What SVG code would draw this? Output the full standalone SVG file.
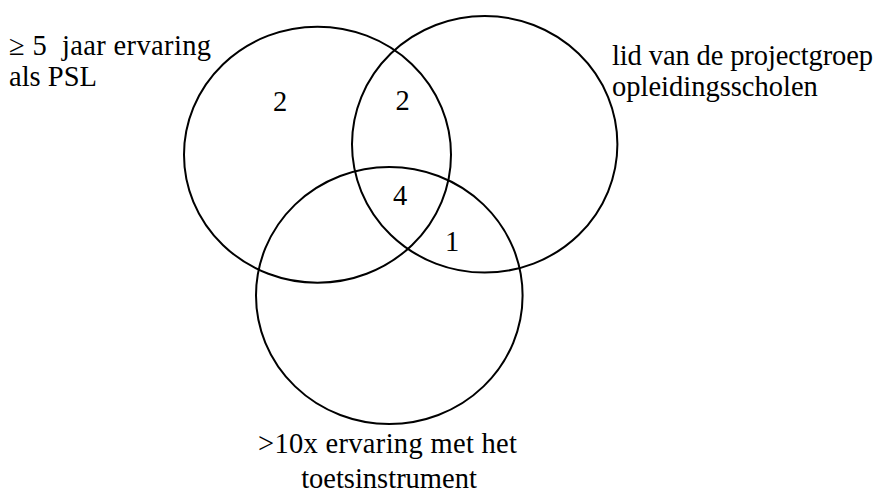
<svg xmlns="http://www.w3.org/2000/svg" width="884" height="498" viewBox="0 0 884 498">
<style>
.c{fill:none;stroke:#000;stroke-width:2}
.t{font-family:'Liberation Serif','Times New Roman',Times,serif;font-size:28.5px;fill:#000}
.m{text-anchor:middle}
</style>
<rect width="884" height="498" fill="#fff"/>
<g id="connectors"></g>
<g id="set-psl">
<ellipse class="c" cx="317.5" cy="154.7" rx="133.5" ry="128"/>
<text class="t" x="9" y="55" xml:space="preserve" textLength="202" lengthAdjust="spacing">≥ 5  jaar ervaring</text>
<text class="t" x="9" y="86">als PSL</text>
</g>
<g id="set-projectgroep">
<ellipse class="c" cx="484.7" cy="144.3" rx="132.7" ry="128.3"/>
<text class="t" x="612" y="65" textLength="261" lengthAdjust="spacing">lid van de projectgroep</text>
<text class="t" x="612" y="96">opleidingsscholen</text>
</g>
<g id="set-toets">
<ellipse class="c" cx="389.3" cy="295.5" rx="133.3" ry="128.5"/>
<text class="t" x="258" y="453" textLength="259" lengthAdjust="spacing">&gt;10x ervaring met het</text>
<text class="t m" x="389" y="488">toetsinstrument</text>
</g>
<g id="counts">
<text class="t m" x="280" y="111">2</text>
<text class="t m" x="402.5" y="110">2</text>
<text class="t m" x="400" y="205">4</text>
<text class="t m" x="452" y="251">1</text>
</g>
</svg>
